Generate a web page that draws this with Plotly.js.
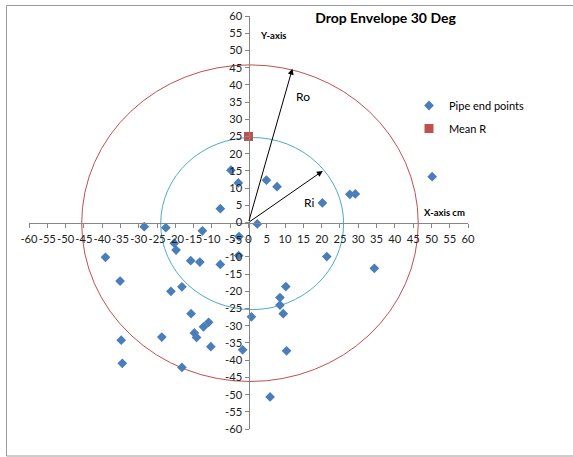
<!DOCTYPE html>
<html>
<head>
<meta charset="utf-8">
<script src="https://cdn.plot.ly/plotly-3.0.1.min.js"></script>
<style>html,body{margin:0;padding:0;background:#fff;}#chart{width:573px;height:457px;}</style>
</head>
<body>
<div id="chart"></div>
<script>
// ---- data ----
const pipeX = [-4.8, -2.8, 4.9, 7.8, -7.7, 20.2, 27.7, 29.2, 50.2, 2.4,
  -28.5, -22.6, -12.6, -2.6, -20.3, -19.8, -39.1, -15.8, -13.3, -7.7,
  -2.7, 21.4, 34.4, -35.1, -21.2, -18.2, 10.2, 8.6, 8.6, 9.5,
  0.8, -15.7, -14.8, -14.2, -12.3, -10.9, -23.7, -34.8, -34.5, -10.3,
  -1.6, -18.2, 10.4, 5.9];
const pipeY = [15.2, 11.5, 12.3, 10.4, 4.0, 5.7, 8.2, 8.3, 13.3, -0.4,
  -1.2, -1.5, -2.4, -4.1, -6.0, -8.0, -10.1, -11.1, -11.5, -12.2,
  -9.6, -9.9, -13.3, -17.0, -20.0, -18.7, -18.6, -21.8, -24.0, -26.5,
  -27.4, -26.5, -32.1, -33.4, -30.3, -29.0, -33.3, -34.2, -40.9, -36.1,
  -37.0, -42.1, -37.3, -50.7];
const meanRX = [0];
const meanRY = [25];
const circleNames = ['Ro', 'Ri'];
const circleCenterX = [0.4, 1.0];
const circleCenterY = [-0.2, -0.3];
const circleRadius = [46, 25];
const circleColors = ['#C0504D', '#4BACC6'];
const arrowTipX = [12.0, 20.3];
const arrowTipY = [44.7, 15.0];
const arrowLabelX = [15.0, 16.6];
const arrowLabelY = [36.5, 5.9];
const tickVals = [];
for (let v = -60; v <= 60; v += 5) tickVals.push(v);

// ---- layout helpers ----
const L = 29, R = 468, T = 16, B = 429;
const px2x = p => (p - L) / (R - L);
const px2y = p => (B - p) / (B - T);
const FONT = 'Lato, "Open Sans", sans-serif';

const traces = [
  { x: pipeX, y: pipeY, type: 'scatter', mode: 'markers', name: 'Pipe end points',
    legendgroup: 'a',
    marker: { symbol: 'diamond', size: 7.5, color: '#4A7EBB' }, hoverinfo: 'skip' },
  { x: meanRX, y: meanRY, type: 'scatter', mode: 'markers', name: 'Mean R',
    legendgroup: 'b',
    marker: { symbol: 'square', size: 9, color: '#C0504D' }, hoverinfo: 'skip' }
];

const shapes = circleRadius.map((r, i) => ({
  type: 'circle', xref: 'x', yref: 'y', layer: 'below',
  x0: circleCenterX[i] - r, x1: circleCenterX[i] + r,
  y0: circleCenterY[i] - r, y1: circleCenterY[i] + r,
  line: { color: circleColors[i], width: 1 }
}));
shapes.push({
  type: 'rect', xref: 'paper', yref: 'paper',
  x0: px2x(6.5), x1: px2x(600), y0: px2y(456), y1: px2y(5.5),
  line: { color: '#9a9a9a', width: 1 }, layer: 'below'
});

const annotations = [];
circleNames.forEach((n, i) => {
  annotations.push({
    x: arrowTipX[i], y: arrowTipY[i], xref: 'x', yref: 'y',
    ax: 0, ay: 0, axref: 'x', ayref: 'y', text: '', showarrow: true,
    arrowhead: 2, arrowsize: 1.2, arrowwidth: 1, arrowcolor: '#000', standoff: 0
  });
  annotations.push({
    x: arrowLabelX[i], y: arrowLabelY[i], xref: 'x', yref: 'y', showarrow: false,
    text: n, font: { family: FONT, size: 12, color: '#000' }
  });
});
annotations.push({
  x: px2x(273), y: px2y(28), xref: 'paper', yref: 'paper', showarrow: false,
  text: '<b>Y-axis</b>', font: { family: FONT, size: 9.5, color: '#000' }
});
annotations.push({
  x: px2x(467), y: px2y(212.5), xref: 'paper', yref: 'paper', showarrow: false,
  text: '<b>X-axis cm</b>', font: { family: FONT, size: 9.5, color: '#000' }
});

const axisCommon = {
  range: [-60, 60], tickvals: tickVals, ticktext: tickVals.map(String),
  showgrid: false, zeroline: false, showline: true, linecolor: '#868686', linewidth: 1,
  ticks: 'outside', ticklen: 4, tickcolor: '#868686', tickangle: 0,
  tickfont: { family: FONT, size: 11.2, color: '#222' },
  anchor: 'free', position: 0.5, fixedrange: true
};

const layout = {
  width: 573, height: 457,
  margin: { l: L, r: 573 - R, t: T, b: 457 - B, pad: 0 },
  paper_bgcolor: '#fff', plot_bgcolor: 'rgba(0,0,0,0)',
  title: { text: '<b>Drop Envelope 30 Deg</b>', xref: 'paper', yref: 'container',
    x: px2x(385.5), xanchor: 'center', y: 1 - 18 / 457, yanchor: 'middle',
    font: { family: FONT, size: 14, color: '#000' } },
  xaxis: Object.assign({}, axisCommon, { side: 'bottom', ticklabelstandoff: 2 }),
  yaxis: Object.assign({}, axisCommon, { side: 'left' }),
  showlegend: true,
  legend: { x: px2x(409), y: px2y(91), xanchor: 'left', yanchor: 'top',
    font: { family: FONT, size: 11, color: '#000' }, bgcolor: 'rgba(0,0,0,0)',
    traceorder: 'grouped', tracegroupgap: 4 },
  shapes: shapes, annotations: annotations
};

Plotly.newPlot('chart', traces, layout, { displayModeBar: false, staticPlot: true });
</script>
</body>
</html>
